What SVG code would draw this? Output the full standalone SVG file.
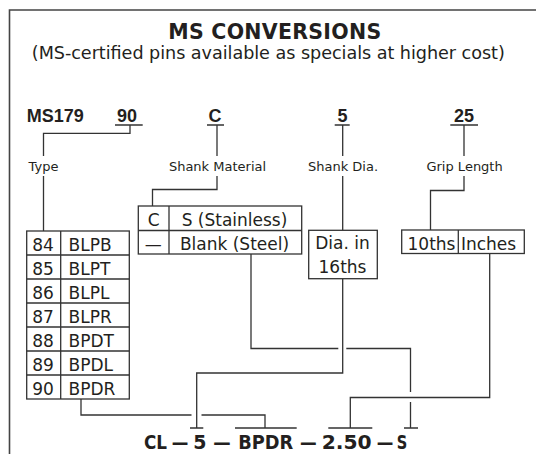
<svg xmlns="http://www.w3.org/2000/svg" width="536" height="454" viewBox="0 0 536 454">
<style>
text{font-family:"DejaVu Sans","Liberation Sans",sans-serif;fill:#231f20}
.title{font-size:20.5px;font-weight:bold;text-anchor:middle}
.sub{font-size:17.6px;text-anchor:middle}
.code{font-family:"Liberation Sans",sans-serif;font-size:18px;font-weight:bold;text-anchor:middle}
.lbl{font-size:13px;text-anchor:middle}
.cell{font-size:17px}
.mid{text-anchor:middle}
.res{font-size:19px;font-weight:bold}
.ln{fill:none;stroke:#333;stroke-width:1.3}
.box{fill:#fff;stroke:#333;stroke-width:1.3}
.frame{fill:none;stroke:#444;stroke-width:1.6}
</style>
<rect width="536" height="454" fill="#fff"/>
<path class="frame" d="M9.5,454 V10 H536"/>
<g id="header">
<text class="title" x="274.7" y="39" textLength="213">MS CONVERSIONS</text>
<text class="sub" x="268.3" y="59" textLength="473">(MS-certified pins available as specials at higher cost)</text>
</g>
<g id="code-row">
<text class="code" x="55.3" y="121.5">MS179</text>
<text class="code" x="127" y="121.5">90</text>
<text class="code" x="215" y="121.5">C</text>
<text class="code" x="342.5" y="121.5">5</text>
<text class="code" x="464" y="121.5">25</text>
<path class="ln" d="M115,125H142.7 M207,125H224 M334.7,125H349.7 M450.3,125H478"/>
</g>
<g id="labels">
<text class="lbl" x="43.5" y="171">Type</text>
<text class="lbl" x="217.5" y="171">Shank Material</text>
<text class="lbl" x="343" y="171">Shank Dia.</text>
<text class="lbl" x="464.6" y="171">Grip Length</text>
</g>
<g id="connectors">
<path class="ln" d="M130,125V133.3H43.5V156 M43.5,176V231"/>
<path class="ln" d="M217,125V156 M217,176V189.5H152.5V206"/>
<path class="ln" d="M342.7,125V156 M342.7,176V230.3"/>
<path class="ln" d="M464,125V156 M464,176V190.5H430.5V230"/>
<path class="ln" d="M81,399V415H191.5 M201.5,415H265V428 M235,428H296.7"/>
<path class="ln" d="M251,254V348.5H338.3 M346.3,348.5H410.5V392 M410.5,402V428 M404,428H418"/>
<path class="ln" d="M342.7,278.7V373H196.7V428 M190,428H203.3"/>
<path class="ln" d="M489.7,253.5V397.5H350.3V428 M328.3,428H372.3"/>
</g>
<g id="type-table">
<rect class="box" x="26.7" y="231" width="102.6" height="168"/>
<path class="ln" d="M60.7,231V399 M26.7,255H129.3 M26.7,279H129.3 M26.7,303H129.3 M26.7,327H129.3 M26.7,351H129.3 M26.7,375H129.3"/>
<text class="cell mid" x="43" y="250.5">84</text><text class="cell" x="68.5" y="250.5">BLPB</text>
<text class="cell mid" x="43" y="274.5">85</text><text class="cell" x="68.5" y="274.5">BLPT</text>
<text class="cell mid" x="43" y="298.5">86</text><text class="cell" x="68.5" y="298.5">BLPL</text>
<text class="cell mid" x="43" y="322.5">87</text><text class="cell" x="68.5" y="322.5">BLPR</text>
<text class="cell mid" x="43" y="346.5">88</text><text class="cell" x="68.5" y="346.5">BPDT</text>
<text class="cell mid" x="43" y="370.5">89</text><text class="cell" x="68.5" y="370.5">BPDL</text>
<text class="cell mid" x="43" y="394.5">90</text><text class="cell" x="68.5" y="394.5">BPDR</text>
</g>
<g id="material-table">
<rect class="box" x="138.3" y="206" width="163.4" height="48"/>
<path class="ln" d="M169,206V254 M138.3,230.5H301.7"/>
<text class="cell mid" x="153.7" y="225.5">C</text>
<text class="cell mid" x="234.5" y="225.5">S (Stainless)</text>
<text class="cell mid" x="153.2" y="249.5">—</text>
<text class="cell mid" x="234.5" y="249.5">Blank (Steel)</text>
</g>
<g id="dia-box">
<rect class="box" x="308.7" y="230.3" width="68.6" height="48.4"/>
<text class="cell mid" x="342.5" y="249">Dia. in</text>
<text class="cell mid" x="342.5" y="273">16ths</text>
</g>
<g id="grip-table">
<rect class="box" x="401.7" y="230" width="122.6" height="23.5"/>
<path class="ln" d="M458.3,230V253.5"/>
<text class="cell mid" x="431.5" y="249.5">10ths</text>
<text class="cell mid" x="488.5" y="249.5">Inches</text>
</g>
<g id="result">
<text class="res" y="449" lengthAdjust="spacingAndGlyphs"><tspan x="144" textLength="23" lengthAdjust="spacingAndGlyphs">CL</tspan><tspan x="171.7" textLength="16.6" lengthAdjust="spacingAndGlyphs">—</tspan><tspan x="193.3" textLength="13.4">5</tspan><tspan x="213.3" textLength="17.4" lengthAdjust="spacingAndGlyphs">—</tspan><tspan x="238.3" textLength="55" lengthAdjust="spacingAndGlyphs">BPDR</tspan><tspan x="300" textLength="16.7" lengthAdjust="spacingAndGlyphs">—</tspan><tspan x="321.7" textLength="50" lengthAdjust="spacingAndGlyphs">2.50</tspan><tspan x="376.7" textLength="16.6" lengthAdjust="spacingAndGlyphs">—</tspan><tspan x="396.7" textLength="10.5" lengthAdjust="spacingAndGlyphs">S</tspan></text>
</g>
</svg>
